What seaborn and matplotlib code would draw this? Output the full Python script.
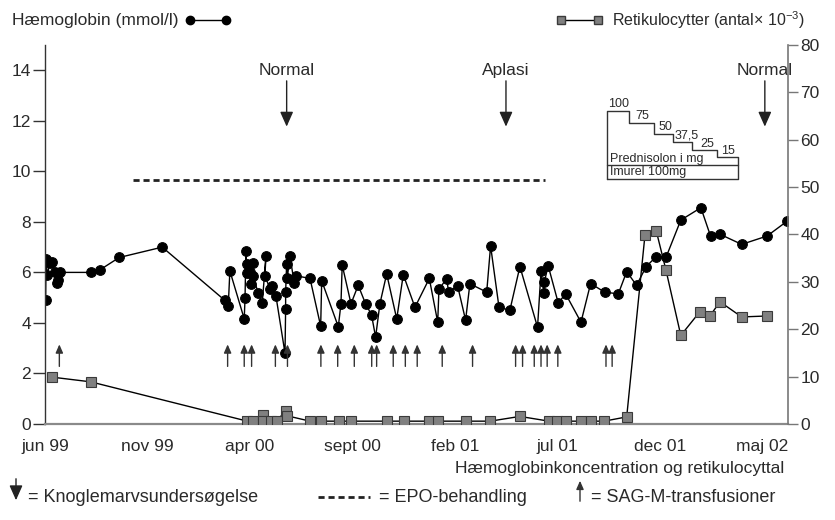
import numpy as np
import pandas as pd
import matplotlib
matplotlib.use('Agg')
import matplotlib.pyplot as plt
import seaborn as sns
from matplotlib.lines import Line2D
from matplotlib.patches import FancyArrowPatch

# x is months since jun 99
hb_month = [0.03, 0.05, 0.11, 0.24, 0.36, 0.49, 0.60, 0.62, 0.73,
            2.23, 2.68, 3.62, 5.72,
            8.78, 8.94, 9.02, 9.72, 9.76, 9.80, 9.84, 9.84, 10.00, 10.13, 10.03, 10.16,
            10.40, 10.60, 10.78, 10.73, 10.98, 11.06, 11.27, 11.71, 11.74, 11.74, 11.79,
            11.82, 11.95, 12.16, 12.23, 12.93, 13.45, 13.50, 14.31, 14.44, 14.50, 14.93,
            15.28, 15.64, 15.93, 16.13, 16.34, 16.67, 17.16, 17.48, 18.05, 18.75, 19.16,
            19.22, 19.60, 19.69, 20.13, 20.52, 20.73, 21.55, 21.74, 22.15, 22.68, 23.17,
            24.03, 24.20, 24.34, 24.36, 24.55, 25.04, 25.40, 26.15, 26.62, 27.30, 27.97,
            28.38, 28.86, 29.33, 29.79, 30.31, 31.02, 32.00, 32.47, 32.93, 33.99, 35.23,
            36.21]
hb_value = [4.92, 6.55, 5.91, 6.37, 6.43, 6.00, 5.58, 5.71, 6.00,
            6.00, 6.10, 6.59, 7.00,
            4.89, 4.66, 6.06, 4.16, 4.99, 6.86, 6.34, 5.97, 6.00, 6.37, 5.55, 5.84,
            5.18, 4.79, 6.65, 5.87, 5.34, 5.47, 5.05, 2.80, 4.57, 5.21, 6.34,
            5.77, 6.65, 5.58, 5.87, 5.76, 3.87, 5.67, 3.85, 4.76, 6.29, 4.76,
            5.49, 4.76, 4.32, 3.44, 4.76, 5.94, 4.16, 5.91, 4.62, 5.76, 4.03,
            5.34, 5.75, 5.22, 5.47, 4.11, 5.55, 5.22, 7.05, 4.62, 4.50, 6.23,
            3.83, 6.04, 5.18, 5.62, 6.26, 4.79, 5.15, 4.03, 5.56, 5.22, 5.15,
            6.03, 5.49, 6.23, 6.60, 6.62, 8.07, 8.56, 7.44, 7.51, 7.11, 7.44,
            8.03]

ret_month = [0.33, 2.23, 9.87, 10.13, 10.62, 10.65, 11.04, 11.30, 11.74, 11.79,
             12.93, 13.45, 14.34, 14.93, 16.67, 17.51, 18.75, 19.19, 20.55, 21.72,
             23.17, 24.59, 24.99, 25.40, 26.13, 26.62, 27.28, 28.38, 29.27, 29.82,
             30.29, 31.02, 31.95, 32.44, 32.93, 33.99, 35.23]
ret_value = [9.9, 8.9, 0.6, 0.6, 2.0, 0.6, 0.6, 0.6, 2.8, 1.75,
             0.6, 0.6, 0.6, 0.6, 0.6, 0.6, 0.6, 0.6, 0.6, 0.6,
             1.6, 0.6, 0.6, 0.6, 0.6, 0.6, 0.6, 1.5, 39.8, 40.8,
             32.6, 18.7, 23.7, 22.8, 25.8, 22.6, 22.8]

transfusion_month = [0.70, 8.91, 9.72, 10.08, 11.24, 11.83, 13.46, 14.28, 15.09,
                     15.94, 16.18, 16.99, 17.58, 18.16, 19.38, 20.86, 22.96, 23.30,
                     23.87, 24.20, 24.50, 25.02, 27.37, 27.67]

marrow_month = [11.79, 22.49, 35.12]
marrow_label = ['Normal', 'Aplasi', 'Normal']

epo_start, epo_end = 4.29, 24.39

tick_month = [0, 5, 10, 15, 20, 25, 30, 35]
tick_label = ['jun 99', 'nov 99', 'apr 00', 'sept 00', 'feb 01', 'jul 01', 'dec 01', 'maj 02']

pred_month = [27.40, 28.49, 29.72, 30.65, 31.58, 32.77, 33.79]
pred_level = [12.40, 11.92, 11.48, 11.18, 10.83, 10.56]
pred_dose = ['100', '75', '50', '37,5', '25', '15']
pred_label_x = [27.47, 28.78, 29.95, 30.72, 31.95, 32.98]

sns.set_style('ticks')
plt.rcParams['font.family'] = ['Liberation Sans', 'DejaVu Sans']
plt.rcParams['mathtext.fontset'] = 'custom'
plt.rcParams['mathtext.rm'] = 'Liberation Sans'
plt.rcParams['text.color'] = '#2a2a2a'
txt = '#2a2a2a'

fig = plt.figure(figsize=(8.35, 5.2), dpi=100)
ax = fig.add_axes([45 / 835, 96 / 520, 743 / 835, 379 / 520])
ax2 = ax.twinx()

hb_df = pd.DataFrame({'month': hb_month, 'hb': hb_value})
ret_df = pd.DataFrame({'month': ret_month, 'ret': ret_value})

sns.lineplot(data=ret_df, x='month', y='ret', sort=False, estimator=None, ax=ax2,
             color='black', lw=1, marker='s', markersize=6.5,
             markerfacecolor='#808080', markeredgecolor='#3a3a3a', markeredgewidth=0.8)
sns.lineplot(data=hb_df, x='month', y='hb', sort=False, estimator=None, ax=ax,
             color='black', lw=1, marker='o', markersize=7,
             markerfacecolor='black', markeredgecolor='black')

ax.set_xlim(0, 36.25)
ax.set_ylim(0, 15)
ax.set_yticks(range(0, 15, 2))
ax2.set_ylim(0, 80)
ax2.set_yticks(range(0, 81, 10))
ax.set_xticks(tick_month, tick_label)
ax.set_xlabel('')
ax.set_ylabel('')
ax2.set_ylabel('')

for a in (ax, ax2):
    a.spines['top'].set_visible(False)
ax.spines['right'].set_visible(False)
ax2.spines['left'].set_visible(False)
ax2.spines['bottom'].set_visible(False)
ax.spines['left'].set_color('#333333')
ax.spines['left'].set_linewidth(1)
ax.spines['bottom'].set_color('#8a8a8a')
ax.spines['bottom'].set_linewidth(1.6)
ax2.spines['right'].set_color('#777777')
ax2.spines['right'].set_linewidth(1.2)

ax.tick_params(axis='x', length=0, pad=11, labelsize=12.5, labelcolor=txt)
ax.tick_params(axis='y', length=8.5, width=1, color='#333333', pad=1.5, labelsize=12.5, labelcolor=txt)
ax2.tick_params(axis='y', length=7, width=1, color='#777777', pad=2, labelsize=12.5, labelcolor=txt)

# bone marrow examinations
for m, lab in zip(marrow_month, marrow_label):
    ax.annotate('', xy=(m, 11.77), xytext=(m, 13.58),
                arrowprops=dict(arrowstyle='-|>,head_length=0.9,head_width=0.4',
                                color='#222222', lw=1, shrinkA=0, shrinkB=0, mutation_scale=10))
    ax.text(m, 13.98, lab, ha='center', va='center', fontsize=12.5, color=txt)

# EPO treatment
ax.plot([epo_start, epo_end], [9.65, 9.65], ls=(0, (2.2, 1.4)), lw=2, color='#222222')

# SAG-M transfusions
for m in transfusion_month:
    ax.annotate('', xy=(m, 3.15), xytext=(m, 2.28),
                arrowprops=dict(arrowstyle='-|>,head_length=0.5,head_width=0.22',
                                color='#333333', lw=1, shrinkA=0, shrinkB=0, mutation_scale=10))

# prednisolone / imurel box
sx = [pred_month[0]]
sy = [9.69]
for i, lvl in enumerate(pred_level):
    sx += [pred_month[i], pred_month[i + 1]]
    sy += [lvl, lvl]
sx += [pred_month[-1], pred_month[-1], pred_month[0]]
sy += [9.69, 9.69, 9.69]
ax.plot(sx, sy, color='#333333', lw=1)
ax.plot([pred_month[0], pred_month[-1]], [10.24, 10.24], color='#333333', lw=1)
for i, d in enumerate(pred_dose):
    ax.text(pred_label_x[i], pred_level[i] + 0.02, d, ha='left', va='bottom',
            fontsize=9, color=txt)
ax.text(pred_month[0] + 0.15, 10.27, 'Prednisolon i mg', ha='left', va='bottom', fontsize=9, color=txt)
ax.text(pred_month[0] + 0.15, 9.96, 'Imurel 100mg', ha='left', va='center', fontsize=9, color=txt)

# top legends
fy = 1 - 20 / 520
fig.text(12 / 835, fy, 'Hæmoglobin (mmol/l)', ha='left', va='center', fontsize=12.5)
fig.add_artist(Line2D([190 / 835, 226 / 835], [fy, fy], color='black', lw=1, marker='o',
                      markersize=6, transform=fig.transFigure))
fig.add_artist(Line2D([561 / 835, 598 / 835], [fy, fy], color='black', lw=1, marker='s',
                      markersize=6, markerfacecolor='#808080', markeredgecolor='#3a3a3a',
                      transform=fig.transFigure))
fig.text(612 / 835, fy, 'Retikulocytter (antal\u00d7 10$^{-3}$)', ha='left', va='center', fontsize=11.5)

# bottom caption and legend
fig.text(455 / 835, 1 - 468 / 520, 'Hæmoglobinkoncentration og retikulocyttal', ha='left', va='center', fontsize=12.5)
ly = 1 - 497 / 520
fig.add_artist(FancyArrowPatch((16 / 835, 1 - 476 / 520), (16 / 835, 1 - 503 / 520),
                               transform=fig.transFigure, color='#222222', lw=1,
                               arrowstyle='-|>,head_length=0.9,head_width=0.4', mutation_scale=10))
fig.text(28 / 835, ly, '= Knoglemarvsundersøgelse', ha='left', va='center', fontsize=13)
fig.add_artist(Line2D([318 / 835, 370 / 835], [ly, ly], color='#222222', lw=2, ls=(0, (2.2, 1.4)),
                      transform=fig.transFigure))
fig.text(379 / 835, ly, '= EPO-behandling', ha='left', va='center', fontsize=13)
fig.add_artist(FancyArrowPatch((580 / 835, 1 - 504 / 520), (580 / 835, 1 - 478 / 520),
                               transform=fig.transFigure, color='#333333', lw=1,
                               arrowstyle='-|>,head_length=0.5,head_width=0.22', mutation_scale=10))
fig.text(591 / 835, ly, '= SAG-M-transfusioner', ha='left', va='center', fontsize=13)

fig.savefig('out.png', dpi=100)
